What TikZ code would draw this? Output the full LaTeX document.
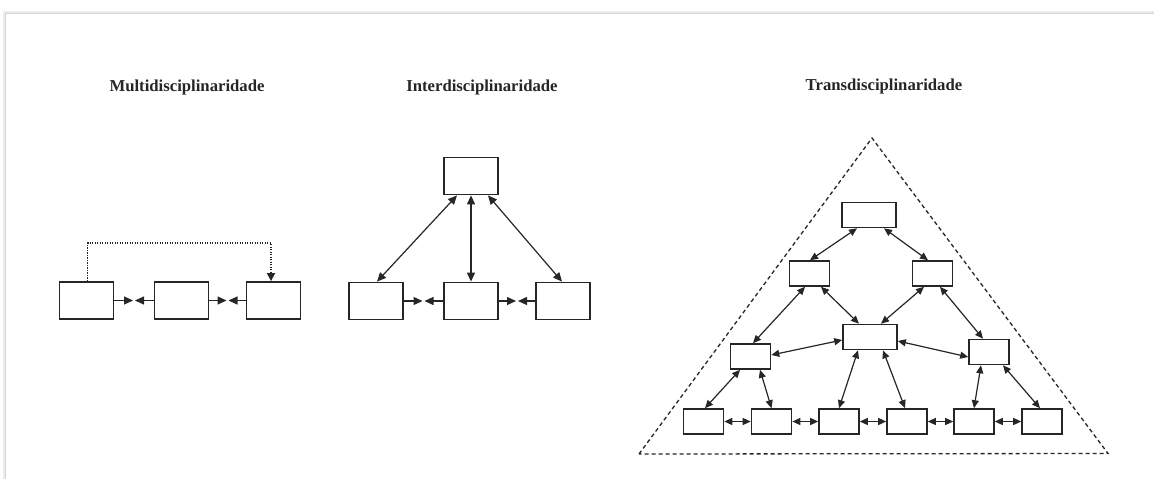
\documentclass[tikz,border=0pt]{standalone}
\usepackage{fontspec}
\setmainfont{Liberation Serif}
\usetikzlibrary{arrows.meta,calc}

\definecolor{ink}{HTML}{262626}
\definecolor{frame}{HTML}{D4D4D4}

\tikzset{
  bigbox/.style={draw=ink, line width=1.8pt, fill=white, minimum width=54pt, minimum height=37pt, inner sep=0pt},
  midbox/.style={draw=ink, line width=1.6pt, fill=white, minimum width=54pt, minimum height=25pt, inner sep=0pt},
  smallbox/.style={draw=ink, line width=1.6pt, fill=white, minimum width=40pt, minimum height=25pt, inner sep=0pt},
  link/.style={draw=ink, line width=1.2pt},
  tipA/.style={-{Triangle[length=9pt,width=8pt]}},
  pair/.style={{Triangle[length=9pt,width=8pt]}-{Triangle[length=9pt,width=8pt]}},
  both/.style={{Triangle[length=8pt,width=7pt]}-{Triangle[length=8pt,width=7pt]}},
  dotline/.style={draw=ink, line width=1.6pt, dash pattern=on 1.2pt off 1.3pt},
  dashline/.style={draw=ink, line width=1.3pt, dash pattern=on 4pt off 3pt},
  title/.style={font=\fontsize{16.7}{18}\selectfont\bfseries, text=ink}
}

\begin{document}
\begin{tikzpicture}[x=1pt,y=-1pt]
\useasboundingbox (0,0) rectangle (1154,479);
\fill[white] (0,0) rectangle (1154,479);

% page edge with its soft shadow
\draw[frame!45, line width=3pt] (4,479) -- (4,12.5) -- (1154,12.5);
\draw[frame, line width=1pt] (5,479) -- (5,13.5) -- (1154,13.5);

% titles
\node[title] (t1) at (187,87) {Multidisciplinaridade};
\node[title] (t2) at (482,87) {Interdisciplinaridade};
\node[title] (t3) at (884,86) {Transdisciplinaridade};

% ---------- Multidisciplinaridade ----------
\node[bigbox] (M1) at (86.5,300.5) {};
\node[bigbox] (M2) at (181.5,300.5) {};
\node[bigbox] (M3) at (273.5,300.5) {};

\draw[link,tipA] (M1.east) -- ($(M1.east)!.5!(M2.west)+(-1,0)$);
\draw[link,tipA] (M2.west) -- ($(M1.east)!.5!(M2.west)+(1,0)$);
\draw[link,tipA] (M2.east) -- ($(M2.east)!.5!(M3.west)+(-1,0)$);
\draw[link,tipA] (M3.west) -- ($(M2.east)!.5!(M3.west)+(1,0)$);

\draw[dotline,-{Triangle[length=8pt,width=8pt]}] ([xshift=1pt]M1.north) -- ++(0,-38) -| ([xshift=-2.5pt]M3.north);

% ---------- Interdisciplinaridade ----------
\node[bigbox] (I0) at (471,176) {};
\node[bigbox] (I1) at (376,301) {};
\node[bigbox] (I2) at (471,301) {};
\node[bigbox] (I3) at (563,301) {};

\draw[link,pair] ([xshift=-14pt]I0.south) -- ([xshift=1pt]I1.north);
\draw[link,pair] (I0.south) -- (I2.north);
\draw[link,pair] ([xshift=17pt]I0.south) -- ([xshift=-1pt]I3.north);

\draw[link,tipA] (I1.east) -- ($(I1.east)!.5!(I2.west)+(-1,0)$);
\draw[link,tipA] (I2.west) -- ($(I1.east)!.5!(I2.west)+(1,0)$);
\draw[link,tipA] (I2.east) -- ($(I2.east)!.5!(I3.west)+(-1,0)$);
\draw[link,tipA] (I3.west) -- ($(I2.east)!.5!(I3.west)+(1,0)$);

% ---------- Transdisciplinaridade ----------
\coordinate (apex) at (872,138);
\coordinate (baseL) at (639,454);
\coordinate (baseR) at (1108,453.5);
\draw[dashline] (baseL) -- (apex) -- (baseR) -- cycle;

\node[midbox] (T) at (869,215) {};
\node[smallbox] (L) at (809.5,273.5) {};
\node[smallbox] (R) at (932.5,273.5) {};
\node[midbox] (C) at (870,337) {};
\node[smallbox] (LL) at (750.5,356.5) {};
\node[smallbox] (RR) at (989,352) {};
\node[smallbox] (B1) at (703.5,421.5) {};
\node[smallbox] (B2) at (771.5,421.5) {};
\node[smallbox] (B3) at (839,421.5) {};
\node[smallbox] (B4) at (907,421.5) {};
\node[smallbox] (B5) at (974,421.5) {};
\node[smallbox] (B6) at (1042,421.5) {};

\draw[link,both] ([xshift=-12pt]T.south) -- ([xshift=0.5pt]L.north);
\draw[link,both] ([xshift=15pt]T.south) -- ([xshift=-4.5pt]R.north);
\draw[link,both] ([xshift=-4.5pt]L.south) -- ([xshift=2.5pt]LL.north);
\draw[link,both] ([xshift=11.5pt]L.south) -- ([xshift=-11pt]C.north);
\draw[link,both] ([xshift=-8.5pt]R.south) -- ([xshift=11pt]C.north);
\draw[link,both] ([xshift=7.5pt]R.south) -- ([xshift=-6pt]RR.north);
\draw[link,both] ([yshift=-3pt]C.west) -- ([yshift=1.5pt]LL.east);
\draw[link,both] ([yshift=-4pt]C.east) -- ([yshift=-5pt]RR.west);
\draw[link,both] ([xshift=-10.5pt]LL.south) -- ([xshift=1.5pt]B1.north);
\draw[link,both] ([xshift=9.5pt]LL.south) -- (B2.north);
\draw[link,both] ([xshift=-12pt]C.south) -- (B3.north);
\draw[link,both] ([xshift=13pt]C.south) -- ([xshift=-2pt]B4.north);
\draw[link,both] ([xshift=-8pt]RR.south) -- (B5.north);
\draw[link,both] ([xshift=14pt]RR.south) -- ([xshift=-2pt]B6.north);

\draw[link,both] (B1.east) -- (B2.west);
\draw[link,both] (B2.east) -- (B3.west);
\draw[link,both] (B3.east) -- (B4.west);
\draw[link,both] (B4.east) -- (B5.west);
\draw[link,both] (B5.east) -- (B6.west);
\end{tikzpicture}
\end{document}
